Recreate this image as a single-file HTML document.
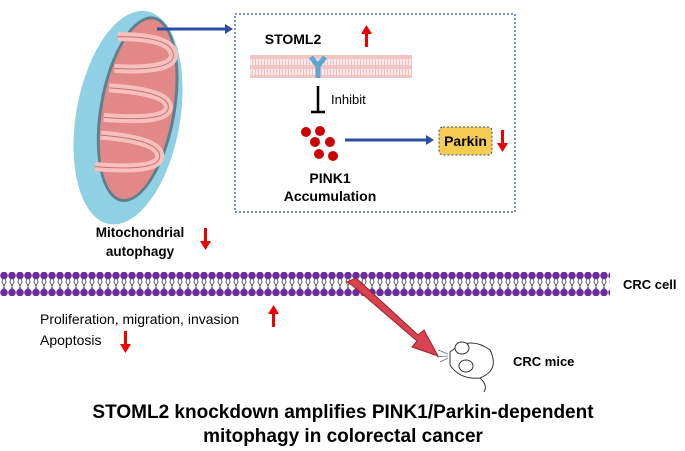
<!DOCTYPE html>
<html><head><style>
body{margin:0;background:#fff;}
svg{display:block;font-family:"Liberation Sans",Arial,sans-serif;}
</style></head><body>
<svg width="685" height="451" viewBox="0 0 685 451">
<defs>
<pattern id="lip" width="8" height="24" patternUnits="userSpaceOnUse" x="0" y="272">
<circle cx="4" cy="3.5" r="3.8" fill="#6a2d9c"/>
<circle cx="4" cy="20.5" r="3.8" fill="#6a2d9c"/>
<path d="M3 7 Q1 10 3 12 Q5 14 3 17 M5 7 Q7 10 5 12 Q3 14 5 17" stroke="#444" stroke-width="0.8" fill="none"/>
</pattern>
<pattern id="pm" width="6" height="24" patternUnits="userSpaceOnUse" x="250" y="55">
<rect width="6" height="24" fill="#f2c4c4"/>
<path d="M1 4 V10 M4 4 V10 M1 14 V20 M4 14 V20" stroke="#fff" stroke-width="1.2"/>
</pattern>
</defs>
<!-- mitochondrion -->
<g transform="rotate(10 130 118)">
<ellipse cx="128" cy="118" rx="52" ry="108" fill="#8fd0e4"/>
<ellipse cx="136" cy="108" rx="38" ry="94" fill="#5f7f8c"/>
<ellipse cx="136" cy="108" rx="35" ry="91" fill="#e28888"/>
<path d="M104 40 Q160 30 162 50 Q162 65 106 72 M104 92 Q166 85 166 102 Q166 116 104 122 M104 140 Q166 134 166 152 Q166 166 104 172" stroke="#f7c0bd" stroke-width="9" fill="none"/>
<path d="M104 40 Q160 30 162 50 Q162 65 106 72 M104 92 Q166 85 166 102 Q166 116 104 122 M104 140 Q166 134 166 152 Q166 166 104 172" stroke="#c86f70" stroke-width="1" fill="none"/>
</g>
<!-- blue arrow -->
<line x1="157" y1="29" x2="226" y2="29" stroke="#2a4fa0" stroke-width="3"/>
<polygon points="225,24 233,29 225,34" fill="#2a4fa0"/>
<!-- dashed box -->
<rect x="235" y="14" width="280" height="198" fill="none" stroke="#2a4fa0" stroke-width="1.2" stroke-dasharray="2,2"/>
<text x="293" y="44" font-size="14" font-weight="bold" text-anchor="middle">STOML2</text>
<rect x="365" y="33" width="3" height="14" fill="#e00"/><polygon points="361,34 366.5,25 372,34" fill="#e00"/>
<rect x="250" y="55" width="162" height="23" fill="url(#pm)"/>
<path d="M311 57 L318 66 L325 57 M318 66 V78" stroke="#5aa7d4" stroke-width="5" fill="none"/>
<line x1="318" y1="86" x2="318" y2="112" stroke="#000" stroke-width="2.5"/>
<line x1="311" y1="112" x2="325" y2="112" stroke="#000" stroke-width="2.5"/>
<text x="331" y="104" font-size="13">Inhibit</text>
<g fill="#c00">
<circle cx="306" cy="132" r="5"/><circle cx="320" cy="131" r="5"/><circle cx="315" cy="142" r="5"/>
<circle cx="330" cy="142" r="5"/><circle cx="319" cy="154" r="5"/><circle cx="333" cy="156" r="5"/></g>
<text x="330" y="183" font-size="14" font-weight="bold" text-anchor="middle">PINK1</text>
<text x="330" y="201" font-size="14" font-weight="bold" text-anchor="middle">Accumulation</text>
<line x1="345" y1="140" x2="427" y2="140" stroke="#2a4fa0" stroke-width="3"/>
<polygon points="426,135 434,140 426,145" fill="#2a4fa0"/>
<rect x="439" y="127" width="53" height="28" rx="4" fill="#f6cd52" stroke="#2a4fa0" stroke-dasharray="2,2"/>
<text x="465.5" y="146" font-size="14" font-weight="bold" text-anchor="middle">Parkin</text>
<rect x="501" y="130" width="3" height="14" fill="#e00"/><polygon points="497,143 502.5,152 508,143" fill="#e00"/>
<!-- mito label -->
<text x="140" y="237" font-size="13.5" font-weight="bold" text-anchor="middle">Mitochondrial</text>
<text x="140" y="256" font-size="13.5" font-weight="bold" text-anchor="middle">autophagy</text>
<rect x="204" y="228" width="3" height="14" fill="#e00"/><polygon points="200,241 205.5,250 211,241" fill="#e00"/>
<!-- membrane -->
<rect x="0" y="272" width="610" height="24" fill="url(#lip)"/>
<text x="623" y="289" font-size="13" font-weight="bold">CRC cell</text>
<text x="40" y="324" font-size="14">Proliferation, migration, invasion</text>
<rect x="272" y="313" width="3" height="14" fill="#e00"/><polygon points="268,314 273.5,305 279,314" fill="#e00"/>
<text x="40" y="345" font-size="14">Apoptosis</text>
<rect x="124" y="331" width="3" height="14" fill="#e00"/><polygon points="120,344 125.5,353 131,344" fill="#e00"/>
<!-- big arrow -->
<polygon points="347,282 356,278 418,335 424,330 438,356 412,347 417,341 353,286" fill="#d9434f" stroke="#a0202a" stroke-width="1"/>
<!-- mouse -->
<g stroke="#333" fill="#fff" stroke-width="1">
<path d="M450 352 Q470 335 490 350 Q500 370 480 378 Q460 380 450 365 Z"/>
<ellipse cx="462" cy="348" rx="7" ry="6"/><ellipse cx="466" cy="366" rx="7" ry="6"/>
<path d="M480 378 Q488 385 484 392" fill="none"/>
<path d="M448 354 L438 350 M448 356 L437 357 M448 358 L440 362" fill="none" stroke-width="0.6"/>
</g>
<text x="513" y="366" font-size="13" font-weight="bold">CRC mice</text>
<text x="343" y="418" font-size="19" font-weight="bold" text-anchor="middle">STOML2 knockdown amplifies PINK1/Parkin-dependent</text>
<text x="343" y="442" font-size="19" font-weight="bold" text-anchor="middle">mitophagy in colorectal cancer</text>
</svg>
</body></html>
